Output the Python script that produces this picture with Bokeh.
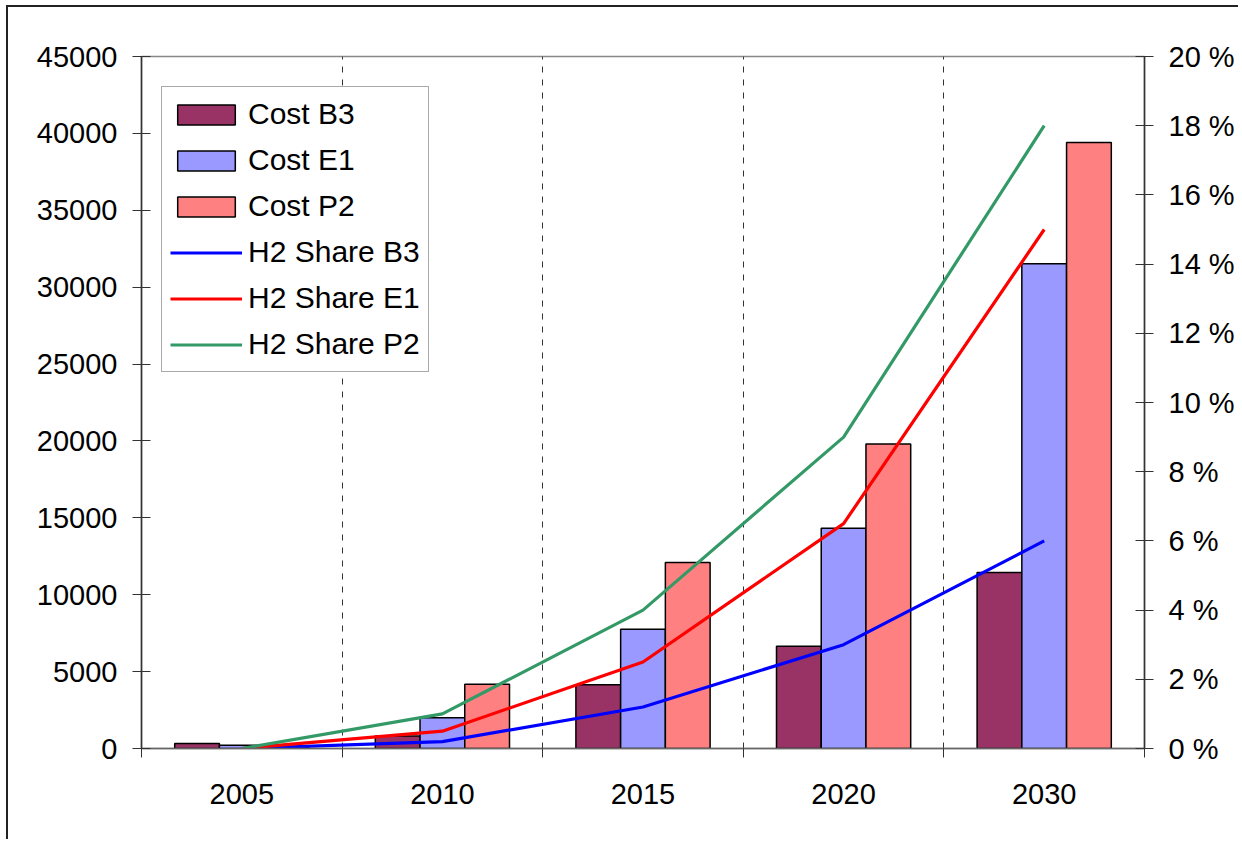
import numpy as np
from bokeh.plotting import figure
from bokeh.models import (Range1d, LinearAxis, FixedTicker, PrintfTickFormatter,
                          Legend, LegendItem, ColumnDataSource)
from bokeh.embed import file_html
from bokeh.resources import INLINE

# ---- data ----
years = ["2005", "2010", "2015", "2020", "2030"]
cost_b3 = [330, 810, 4150, 6650, 11450]
cost_e1 = [210, 2000, 7750, 14330, 31530]
cost_p2 = [60, 4170, 12100, 19800, 39400]
share_b3 = [0.0, 0.2, 1.2, 3.0, 6.0]
share_e1 = [0.0, 0.5, 2.5, 6.5, 15.0]
share_p2 = [0.0, 1.0, 4.0, 9.0, 18.0]
left_ticks = list(range(0, 45001, 5000))
right_ticks = list(range(0, 21, 2))

FONT = "Liberation Sans"
C_B3, C_E1, C_P2 = "#993366", "#9999FF", "#FF8080"
L_B3, L_E1, L_P2 = "#0000FF", "#FF0000", "#339966"

n = len(years)
xc = np.arange(n) + 0.5
bw = 0.223

p = figure(width=1232, height=834, x_range=Range1d(0, n), y_range=Range1d(0, 45000),
           output_backend="svg", toolbar_location=None,
           min_border_left=133, min_border_top=49, min_border_right=96, min_border_bottom=93)
p.title.visible = False
p.styles = {"border-left": "2px solid #222", "border-top": "2px solid #222",
            "margin-left": "6px", "margin-top": "5px"}
p.background_fill_color = "white"
p.border_fill_color = "white"
p.outline_line_color = "#888888"
p.outline_line_width = 1.5
p.extra_y_ranges = {"pct": Range1d(0, 20)}

src = ColumnDataSource(dict(xb3=xc - bw, xe1=xc, xp2=xc + bw,
                            b3=cost_b3, e1=cost_e1, p2=cost_p2,
                            x=xc, sb3=share_b3, se1=share_e1, sp2=share_p2))

r_b3 = p.vbar(x="xb3", top="b3", width=bw, source=src, fill_color=C_B3,
              line_color="black", line_width=1.5)
r_e1 = p.vbar(x="xe1", top="e1", width=bw, source=src, fill_color=C_E1,
              line_color="black", line_width=1.5)
r_p2 = p.vbar(x="xp2", top="p2", width=bw, source=src, fill_color=C_P2,
              line_color="black", line_width=1.5)

l_b3 = p.line("x", "sb3", source=src, y_range_name="pct", line_color=L_B3, line_width=3.2)
l_e1 = p.line("x", "se1", source=src, y_range_name="pct", line_color=L_E1, line_width=3.2)
l_p2 = p.line("x", "sp2", source=src, y_range_name="pct", line_color=L_P2, line_width=3.2)

# grids
p.ygrid.visible = False
p.xgrid.ticker = FixedTicker(ticks=list(range(1, n)))
p.xgrid.grid_line_color = "#333333"
p.xgrid.grid_line_dash = "6 7"
p.xgrid.grid_line_width = 1

def style_axis(ax):
    ax.major_label_text_font = FONT
    ax.major_label_text_font_size = "29px"
    ax.major_label_text_color = "black"
    ax.axis_line_color = "#333333"
    ax.axis_line_width = 1.5
    ax.major_tick_line_color = "#333333"
    ax.major_tick_line_width = 1.2
    ax.minor_tick_line_color = None

# x axis
xa = p.xaxis[0]
style_axis(xa)
xa.ticker = FixedTicker(ticks=list(xc), minor_ticks=list(range(0, n + 1)))
xa.major_label_overrides = {float(x): y for x, y in zip(xc, years)}
xa.major_tick_out = 0
xa.major_tick_in = 0
xa.minor_tick_line_color = "#333333"
xa.minor_tick_out = 9
xa.minor_tick_in = 0
xa.axis_line_color = "#666666"
xa.major_label_standoff = 26

# left axis
ya = p.yaxis[0]
style_axis(ya)
ya.ticker = FixedTicker(ticks=left_ticks)
ya.major_tick_out = 9
ya.major_tick_in = 9
ya.major_label_standoff = 15

# right axis
ra = LinearAxis(y_range_name="pct", ticker=FixedTicker(ticks=right_ticks),
                formatter=PrintfTickFormatter(format="%d %%"))
style_axis(ra)
ra.major_tick_out = 9
ra.major_tick_in = 9
ra.major_label_standoff = 15
p.add_layout(ra, "right")

legend = Legend(items=[
    LegendItem(label="Cost B3", renderers=[r_b3]),
    LegendItem(label="Cost E1", renderers=[r_e1]),
    LegendItem(label="Cost P2", renderers=[r_p2]),
    LegendItem(label="H2 Share B3", renderers=[l_b3]),
    LegendItem(label="H2 Share E1", renderers=[l_e1]),
    LegendItem(label="H2 Share P2", renderers=[l_p2]),
], location=(20, 376))
legend.label_text_font = FONT
legend.label_text_font_size = "30px"
legend.label_text_color = "black"
legend.glyph_width = 72
legend.glyph_height = 25
legend.label_height = 38
legend.spacing = 8
legend.padding = 8
legend.label_standoff = 6
legend.border_line_color = "#555555"
legend.border_line_width = 1
legend.background_fill_color = "white"
legend.background_fill_alpha = 1
p.add_layout(legend)

open("out.html", "w").write(file_html(p, INLINE))
